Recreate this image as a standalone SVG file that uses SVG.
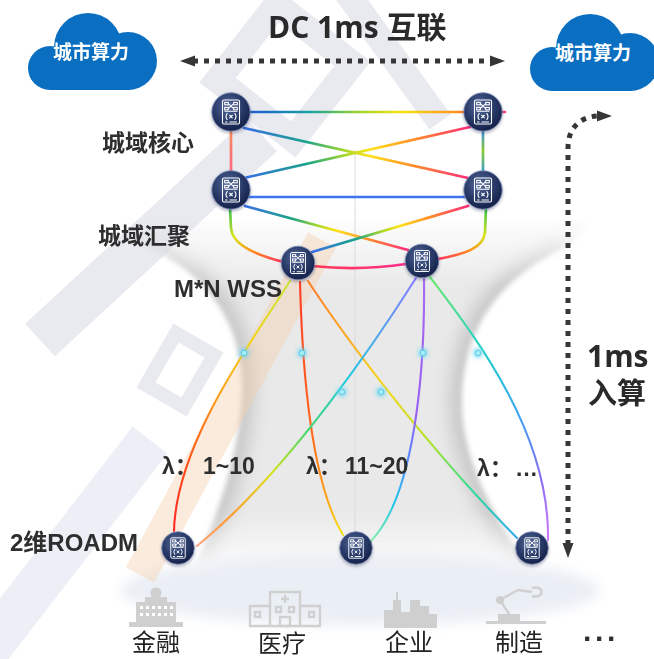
<svg xmlns="http://www.w3.org/2000/svg" xmlns:xlink="http://www.w3.org/1999/xlink" width="654" height="659" viewBox="0 0 654 659">
<style>
  .lbl{font-family:"Liberation Sans","Noto Sans CJK SC",sans-serif;font-weight:bold;fill:#2e2e2e}
  .cn{font-family:"Noto Sans CJK SC",sans-serif;font-weight:bold;fill:#2e2e2e;font-size:23px}
  .big{font-family:"Open Sans","Noto Sans CJK SC",sans-serif;font-weight:bold;fill:#2a2a2a}
  .ctext{font-family:"Noto Sans CJK SC",sans-serif;font-weight:bold;font-size:19px;fill:#fff}
  .biz{font-family:"Noto Sans CJK SC",sans-serif;font-size:24px;fill:#222}
  .ln{fill:none;stroke-linecap:round}
  .t{stroke-width:2.7}
  .l{stroke-width:2.1}
  .dots{fill:none;stroke:#363636;stroke-width:5;stroke-dasharray:5 6}
  .ico{fill:#cfcfcf}
  .icoS{fill:none;stroke:#d0d0d0;stroke-width:2.4}
  .wm{fill:none;stroke:#d9dde7}
</style>
<defs>
  <radialGradient id="nodeFill" cx="0.42" cy="0.35" r="0.68">
    <stop offset="0" stop-color="#566a9c"/>
    <stop offset="0.55" stop-color="#2a3c6a"/>
    <stop offset="1" stop-color="#131f46"/>
  </radialGradient>
  <symbol id="ne" viewBox="-20 -20 40 40" overflow="visible">
    <circle r="19.2" fill="url(#nodeFill)" stroke="#7f8db8" stroke-width="0.9"/>
    <g fill="none" stroke="#fff" stroke-width="1.1">
      <rect x="-8.5" y="-12" width="17" height="24" rx="1.5"/>
      <rect x="-6.3" y="-9.6" width="3.6" height="2.4"/>
      <rect x="2.7" y="-9.6" width="3.6" height="2.4"/>
      <rect x="-6.3" y="-4.6" width="3.6" height="2.4"/>
      <rect x="2.7" y="-4.6" width="3.6" height="2.4"/>
      <path d="M-2.7,-8.4 L2.7,-3.4 M2.7,-8.4 L-2.7,-3.4 M-6.5,-0.8 H6.5"/>
      <path d="M-3.6,1.2 Q-6.4,4.6 -3.6,8 M3.6,1.2 Q6.4,4.6 3.6,8"/>
      <path d="M-1.6,3 L1.6,6.2 M1.6,3 L-1.6,6.2"/>
      <path d="M-6,10 H-3.5 M-1.5,10 H6"/>
    </g>
  </symbol>
  <linearGradient id="spec">
    <stop offset="0" stop-color="#3a6ee8"/>
    <stop offset="0.28" stop-color="#17a38a"/>
    <stop offset="0.45" stop-color="#a8d82a"/>
    <stop offset="0.56" stop-color="#ffe31a"/>
    <stop offset="0.76" stop-color="#ff8a2a"/>
    <stop offset="1" stop-color="#ff2d7a"/>
  </linearGradient>
  <linearGradient id="gTop" gradientUnits="userSpaceOnUse" x1="245" y1="112" x2="505" y2="112">
    <stop offset="0" stop-color="#2255d8"/>
    <stop offset="0.25" stop-color="#17a3a0"/>
    <stop offset="0.45" stop-color="#a6d62a"/>
    <stop offset="0.6" stop-color="#f4e40c"/>
    <stop offset="0.8" stop-color="#ff9520"/>
    <stop offset="0.93" stop-color="#ff4a3a"/>
    <stop offset="1" stop-color="#ff3d8b"/>
  </linearGradient>
  <linearGradient id="gX1" href="#spec" gradientUnits="userSpaceOnUse" x1="244" y1="128" x2="468" y2="178"/>
  <linearGradient id="gX2" href="#spec" gradientUnits="userSpaceOnUse" x1="244" y1="178" x2="470" y2="127"/>
  <linearGradient id="gX3" href="#spec" gradientUnits="userSpaceOnUse" x1="245" y1="206" x2="408" y2="250"/>
  <linearGradient id="gX4" href="#spec" gradientUnits="userSpaceOnUse" x1="312" y1="252" x2="468" y2="206"/>
  <linearGradient id="gVL" gradientUnits="userSpaceOnUse" x1="231" y1="130" x2="231" y2="172">
    <stop offset="0" stop-color="#ff8a55"/>
    <stop offset="1" stop-color="#ff6a8a"/>
  </linearGradient>
  <linearGradient id="gVR" gradientUnits="userSpaceOnUse" x1="483" y1="130" x2="483" y2="172">
    <stop offset="0" stop-color="#3a8ee8"/>
    <stop offset="0.5" stop-color="#8acb32"/>
    <stop offset="1" stop-color="#3aa0d8"/>
  </linearGradient>
  <linearGradient id="curv">
    <stop offset="0" stop-color="#36bf55"/>
    <stop offset="0.3" stop-color="#d8e61a"/>
    <stop offset="0.62" stop-color="#ff8a1f"/>
    <stop offset="1" stop-color="#ff3060"/>
  </linearGradient>
  <linearGradient id="gCL" href="#curv" gradientUnits="userSpaceOnUse" x1="230" y1="208" x2="284" y2="262"/>
  <linearGradient id="gCR" href="#curv" gradientUnits="userSpaceOnUse" x1="486" y1="208" x2="438" y2="259"/>
  <linearGradient id="gMid" gradientUnits="userSpaceOnUse" x1="312" y1="266" x2="406" y2="264">
    <stop offset="0" stop-color="#ff3a55"/>
    <stop offset="1" stop-color="#ff2f8a"/>
  </linearGradient>
  <linearGradient id="gA" gradientUnits="userSpaceOnUse" x1="290" y1="281" x2="174" y2="531">
    <stop offset="0" stop-color="#c8e43a"/>
    <stop offset="0.25" stop-color="#f2d51a"/>
    <stop offset="0.5" stop-color="#ff9a1a"/>
    <stop offset="0.78" stop-color="#ff4a1a"/>
    <stop offset="1" stop-color="#ff2a2a"/>
  </linearGradient>
  <linearGradient id="gB" gradientUnits="userSpaceOnUse" x1="300" y1="282" x2="343" y2="535">
    <stop offset="0" stop-color="#ff3a2a"/>
    <stop offset="0.6" stop-color="#ff6a1a"/>
    <stop offset="0.85" stop-color="#ffa41a"/>
    <stop offset="1" stop-color="#f2e21a"/>
  </linearGradient>
  <linearGradient id="gC" gradientUnits="userSpaceOnUse" x1="308" y1="281" x2="517" y2="538">
    <stop offset="0" stop-color="#ff7a2a"/>
    <stop offset="0.4" stop-color="#f5d81a"/>
    <stop offset="0.6" stop-color="#b5e22a"/>
    <stop offset="0.8" stop-color="#33dd99"/>
    <stop offset="1" stop-color="#33a8ee"/>
  </linearGradient>
  <linearGradient id="gD" gradientUnits="userSpaceOnUse" x1="416" y1="278" x2="197" y2="546">
    <stop offset="0" stop-color="#8a7aff"/>
    <stop offset="0.35" stop-color="#22c8e0"/>
    <stop offset="0.55" stop-color="#4ad86a"/>
    <stop offset="0.7" stop-color="#d8e21a"/>
    <stop offset="0.87" stop-color="#ff9a2a"/>
    <stop offset="1" stop-color="#ffa488"/>
  </linearGradient>
  <linearGradient id="gE" gradientUnits="userSpaceOnUse" x1="424" y1="279" x2="371" y2="541">
    <stop offset="0" stop-color="#a46af0"/>
    <stop offset="0.5" stop-color="#9a5ff5"/>
    <stop offset="0.7" stop-color="#4a90ff"/>
    <stop offset="0.85" stop-color="#22c8e8"/>
    <stop offset="1" stop-color="#8af0a8"/>
  </linearGradient>
  <linearGradient id="gF" gradientUnits="userSpaceOnUse" x1="430" y1="277" x2="548" y2="540">
    <stop offset="0" stop-color="#6ae86a"/>
    <stop offset="0.3" stop-color="#22d0c8"/>
    <stop offset="0.55" stop-color="#3aa8f0"/>
    <stop offset="0.8" stop-color="#8a6ef5"/>
    <stop offset="1" stop-color="#d07af5"/>
  </linearGradient>
  <linearGradient id="fadeV" x1="0" y1="0" x2="0" y2="1">
    <stop offset="0" stop-color="#000"/>
    <stop offset="0.2" stop-color="#fff"/>
    <stop offset="0.82" stop-color="#fff"/>
    <stop offset="1" stop-color="#000"/>
  </linearGradient>
  <mask id="hgMask" maskUnits="userSpaceOnUse" x="0" y="180" width="654" height="420">
    <rect x="0" y="215" width="654" height="362" fill="url(#fadeV)"/>
  </mask>
  <clipPath id="hgClip">
    <path d="M100,200 L610,200 L570,245 C492,280 463,335 462,400 C461,450 485,505 528,565 L195,565 C222,505 240,450 242,390 C244,330 210,270 140,245 Z"/>
  </clipPath>
  <filter id="soft" x="-20%" y="-20%" width="140%" height="140%">
    <feGaussianBlur stdDeviation="6"/>
  </filter>
  <filter id="soft3" x="-10%" y="-10%" width="120%" height="120%">
    <feGaussianBlur stdDeviation="2.5"/>
  </filter>
  <filter id="soft9" x="-40%" y="-20%" width="180%" height="140%">
    <feGaussianBlur stdDeviation="9"/>
  </filter>
  <filter id="glow" x="-200%" y="-200%" width="500%" height="500%">
    <feGaussianBlur stdDeviation="2.2"/>
  </filter>
  <filter id="shadow" x="-30%" y="-30%" width="160%" height="160%">
    <feDropShadow dx="0" dy="1.5" stdDeviation="1.8" flood-color="#1a2040" flood-opacity="0.35"/>
  </filter>
</defs>

<!-- page -->
<rect width="654" height="659" fill="#fff"/>

<!-- soft grey hourglass behind the optical layer -->
<g id="hourglass">
  <g filter="url(#soft3)">
    <g mask="url(#hgMask)">
      <g clip-path="url(#hgClip)">
        <rect x="100" y="200" width="510" height="375" fill="#e9e9e9"/>
        <path d="M140,245 C210,270 244,330 242,390 C240,450 222,505 195,565" fill="none" stroke="#c2c2c2" stroke-width="22" filter="url(#soft9)"/>
        <path d="M570,245 C492,280 463,335 462,400 C461,450 485,505 528,565" fill="none" stroke="#c2c2c2" stroke-width="22" filter="url(#soft9)"/>
      </g>
    </g>
  </g>
  <ellipse cx="360" cy="590" rx="240" ry="36" fill="#e6ebf3" opacity="0.8" filter="url(#soft)"/>
  <line x1="355" y1="150" x2="355" y2="560" stroke="#dadada" stroke-width="1"/>
</g>

<!-- faint watermark lettering -->
<g id="watermark" opacity="0.6">
  <rect x="-48" y="-48" width="96" height="96" transform="translate(285,72) rotate(38)" class="wm" stroke-width="26"/>
  <line x1="345" y1="-10" x2="440" y2="122" class="wm" stroke-width="26"/>
  <line x1="262" y1="135" x2="40" y2="340" class="wm" stroke-width="44"/>
  <rect x="-22" y="-30" width="44" height="60" transform="translate(180,370) rotate(30)" class="wm" stroke-width="14"/>
  <line x1="150" y1="440" x2="-20" y2="660" stroke="#dfe6f0" stroke-width="44"/>
  <line x1="322" y1="240" x2="140" y2="575" stroke="#f4cfae" stroke-width="32" opacity="0.7"/>
</g>

<!-- city compute clouds -->
<g id="cloud-left" fill="#0b6fc1">
  <circle cx="50" cy="68" r="22"/>
  <circle cx="88" cy="47" r="34"/>
  <circle cx="128" cy="61" r="29"/>
  <rect x="50" y="60" width="80" height="30"/>
  <text x="91" y="59" text-anchor="middle" class="ctext">城市算力</text>
</g>
<g id="cloud-right" fill="#0b6fc1" transform="translate(502,1)">
  <circle cx="50" cy="68" r="22"/>
  <circle cx="88" cy="47" r="34"/>
  <circle cx="128" cy="61" r="29"/>
  <rect x="50" y="60" width="80" height="30"/>
  <text x="91" y="59" text-anchor="middle" class="ctext">城市算力</text>
</g>

<text x="268" y="38" class="big" font-size="30">DC 1ms 互联</text>

<!-- latency arrows -->
<g id="arrows" fill="#363636">
  <line x1="193" y1="61" x2="492" y2="61" class="dots"/>
  <polygon points="180,61 195,55.5 195,66.5"/>
  <polygon points="505,61 490,55.5 490,66.5"/>
  <path d="M568,545 L568,148 C568,128 580,117 597,116" class="dots"/>
  <polygon points="562.5,543 573.5,543 568,558"/>
  <polygon points="597,110.5 612,116 597,121.5"/>
</g>
<text class="big" font-size="30" x="587" y="367">1ms</text>
<text class="big" font-size="29" x="588" y="404">入算</text>

<!-- connectors -->
<g id="connectors" class="ln">
  <line x1="240" y1="112" x2="505" y2="112" stroke="url(#gTop)" class="t"/>
  <line x1="244" y1="128" x2="468" y2="178" stroke="url(#gX1)" class="t"/>
  <line x1="470" y1="127" x2="244" y2="178" stroke="url(#gX2)" class="t"/>
  <line x1="231" y1="130" x2="231" y2="172" stroke="url(#gVL)" class="t"/>
  <line x1="483" y1="130" x2="483" y2="172" stroke="url(#gVR)" class="t"/>
  <line x1="245" y1="197" x2="470" y2="197" stroke="#3f74ee" class="t"/>
  <line x1="245" y1="206" x2="408" y2="250" stroke="url(#gX3)" class="t"/>
  <line x1="468" y1="206" x2="312" y2="252" stroke="url(#gX4)" class="t"/>
  <path d="M230,208 L231,228 C232,245 255,255 284,262" stroke="url(#gCL)" class="t"/>
  <path d="M486,208 L485,232 C484,248 465,254 438,259" stroke="url(#gCR)" class="t"/>
  <path d="M312,266 Q360,271 406,264" stroke="url(#gMid)" class="t"/>
  <path d="M290,281 C260,330 176,440 174,531" stroke="url(#gA)" class="l"/>
  <path d="M300,282 C302,360 310,480 343,535" stroke="url(#gB)" class="l"/>
  <path d="M308,281 C340,330 420,440 517,538" stroke="url(#gC)" class="l"/>
  <path d="M416,278 C380,335 290,470 197,546" stroke="url(#gD)" class="l"/>
  <path d="M424,279 C425,370 415,495 371,541" stroke="url(#gE)" class="l"/>
  <path d="M430,277 C470,330 550,430 548,540" stroke="url(#gF)" class="l"/>
</g>

<!-- wavelength taps -->
<g id="taps">
  <g fill="#6fd8f0" filter="url(#glow)" opacity="0.8">
    <circle cx="244" cy="353" r="5"/><circle cx="302" cy="353" r="5"/>
    <circle cx="423" cy="353" r="5"/><circle cx="478" cy="353" r="5"/>
    <circle cx="342" cy="392" r="5"/><circle cx="381" cy="392" r="5"/>
  </g>
  <g fill="#a8ecf8" stroke="#45c4e4" stroke-width="0.8">
    <circle cx="244" cy="353" r="2.8"/><circle cx="302" cy="353" r="2.8"/>
    <circle cx="423" cy="353" r="2.8"/><circle cx="478" cy="353" r="2.8"/>
    <circle cx="342" cy="392" r="2.8"/><circle cx="381" cy="392" r="2.8"/>
  </g>
</g>

<!-- network elements -->
<g id="core-left" filter="url(#shadow)"><use href="#ne" x="211" y="92" width="40" height="40"/></g>
<g id="core-right" filter="url(#shadow)"><use href="#ne" x="463" y="92" width="40" height="40"/></g>
<g id="agg-left" filter="url(#shadow)"><use href="#ne" x="211" y="170" width="40" height="40"/></g>
<g id="agg-right" filter="url(#shadow)"><use href="#ne" x="463" y="170" width="40" height="40"/></g>
<g id="wss-left" filter="url(#shadow)"><use href="#ne" x="280.5" y="245.5" width="35" height="35"/></g>
<g id="wss-right" filter="url(#shadow)"><use href="#ne" x="404.5" y="243.5" width="35" height="35"/></g>
<g id="roadm-1" filter="url(#shadow)"><use href="#ne" x="161" y="531" width="34" height="34"/></g>
<g id="roadm-2" filter="url(#shadow)"><use href="#ne" x="339" y="531" width="34" height="34"/></g>
<g id="roadm-3" filter="url(#shadow)"><use href="#ne" x="515" y="531" width="34" height="34"/></g>

<!-- layer labels -->
<text x="102" y="151" class="cn" font-size="24">城域核心</text>
<text x="98" y="244" class="cn" font-size="24">城域汇聚</text>
<text x="174" y="297" class="lbl" font-size="24">M*N WSS</text>
<text x="10" y="551" class="lbl" font-size="24">2维ROADM</text>
<text class="lbl" font-size="23" y="474"><tspan x="162">λ：</tspan><tspan x="203">1~10</tspan></text>
<text class="lbl" font-size="23" y="474"><tspan x="306">λ：</tspan><tspan x="345">11~20</tspan></text>
<text class="lbl" font-size="23" y="476"><tspan x="477">λ：</tspan><tspan x="515">…</tspan></text>

<!-- industry icons -->
<g id="finance">
  <circle cx="156" cy="593" r="5.5" class="ico"/>
  <rect x="145" y="597" width="22" height="6" class="ico"/>
  <rect x="136" y="602" width="40" height="20" class="ico"/>
  <g fill="#fff">
    <rect x="140" y="606" width="3" height="3"/><rect x="146" y="606" width="3" height="3"/><rect x="152" y="606" width="3" height="3"/><rect x="158" y="606" width="3" height="3"/><rect x="164" y="606" width="3" height="3"/><rect x="170" y="606" width="3" height="3"/>
    <rect x="140" y="613" width="3" height="3"/><rect x="146" y="613" width="3" height="3"/><rect x="152" y="613" width="3" height="3"/><rect x="158" y="613" width="3" height="3"/><rect x="164" y="613" width="3" height="3"/><rect x="170" y="613" width="3" height="3"/>
  </g>
  <rect x="129" y="622" width="54" height="5" class="ico"/>
  <text x="156" y="651" text-anchor="middle" class="biz">金融</text>
</g>
<g id="medical">
  <path d="M270,626 V592 H300 V626 M270,606 H250 V626 H320 V606 H300" class="icoS"/>
  <path d="M285,595 V603 M281,599 H289" class="icoS" stroke-width="2"/>
  <g class="icoS" stroke-width="1.8">
    <rect x="276" y="607" width="5" height="5"/><rect x="289" y="607" width="5" height="5"/>
    <rect x="255" y="612" width="5" height="5"/><rect x="309" y="612" width="5" height="5"/>
    <rect x="280" y="617" width="10" height="9"/>
  </g>
  <text x="282" y="652" text-anchor="middle" class="biz">医疗</text>
</g>
<g id="enterprise" class="ico">
  <rect x="396" y="592" width="2" height="8"/>
  <rect x="393" y="600" width="8" height="28"/>
  <rect x="384" y="610" width="10" height="18"/>
  <rect x="401" y="612" width="9" height="16"/>
  <rect x="410" y="600" width="10" height="28"/>
  <rect x="420" y="606" width="9" height="22"/>
  <rect x="429" y="614" width="8" height="14"/>
  <text x="409" y="651" text-anchor="middle" class="biz" fill="#222">企业</text>
</g>
<g id="manufacturing">
  <rect x="486" y="621" width="60" height="3" class="ico"/>
  <rect x="498" y="614" width="22" height="8" class="ico"/>
  <path d="M509,614 L500,600 L518,590 L532,592" class="icoS" stroke-width="5"/>
  <circle cx="500" cy="600" r="4" class="ico"/>
  <path d="M532,588 Q540,586 542,592 M532,596 Q540,598 542,592" class="icoS" stroke-width="2"/>
  <text x="519" y="651" text-anchor="middle" class="biz">制造</text>
</g>
<text x="583" y="649" class="lbl" font-size="30" fill="#222" letter-spacing="2">···</text>
</svg>
